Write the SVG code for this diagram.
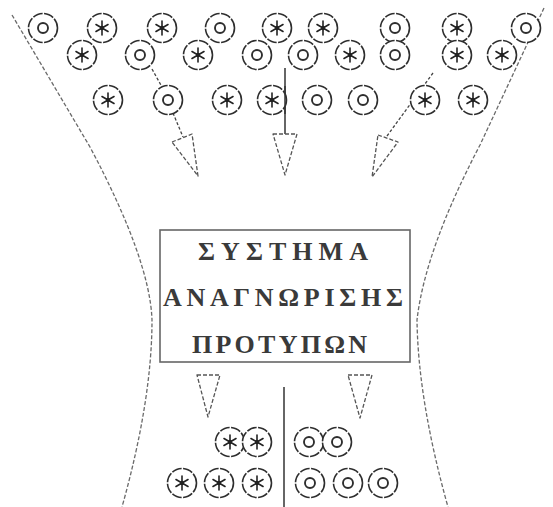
<svg xmlns="http://www.w3.org/2000/svg" xmlns:xlink="http://www.w3.org/1999/xlink" width="553" height="507" viewBox="0 0 553 507">
<style>
.funnel{fill:none;stroke:#6a6a6a;stroke-width:1.3;stroke-dasharray:4 2}
.ring{fill:#fff;stroke:#2e2e2e;stroke-width:1.6;stroke-dasharray:10 1.5}
.inner{fill:none;stroke:#2e2e2e;stroke-width:1.9}
.ast{stroke:#222;stroke-width:1.6;stroke-linecap:round}
.dash{fill:none;stroke:#444;stroke-width:1.3;stroke-dasharray:3 2}
.solid{fill:none;stroke:#333;stroke-width:1.5}
.head{fill:none;stroke:#555;stroke-width:1.3;stroke-dasharray:4 2;stroke-linejoin:round}
.box{fill:#fff;stroke:#666;stroke-width:1.6}
.lbl{font-family:"Liberation Serif","DejaVu Serif",serif;font-size:26px;font-weight:bold;fill:#3a3a3a}
</style>
<defs>
<g id="o">
<circle class="ring" r="14.5"/>
<circle class="inner" r="5"/>
</g>
<g id="s">
<circle class="ring" r="14.5"/>
<line class="ast" x1="0" y1="-7" x2="0" y2="7"/>
<line class="ast" x1="-6" y1="-3.5" x2="6" y2="3.5"/>
<line class="ast" x1="-6" y1="3.5" x2="6" y2="-3.5"/>
<circle r="2.2" fill="#222"/>
</g>
</defs>

<g id="funnel">
<path class="funnel" d="M12,15 L90,147 Q150,260 152,320 Q152,400 122,507"/>
<path class="funnel" d="M544,8 L480,145 Q425,250 417,320 Q418,400 448,507"/>
</g>

<g id="connectors">
<line class="dash" x1="152" y1="69" x2="162" y2="87"/>
<line class="dash" x1="173" y1="113" x2="183" y2="137"/>
<polygon class="head" points="172,142 192,134 198,176"/>
<line class="solid" x1="285" y1="68" x2="285" y2="134"/>
<polygon class="head" points="273,134 297,134 285,175"/>
<line class="dash" x1="433" y1="73" x2="387" y2="136"/>
<polygon class="head" points="378,135 398,142 372,177"/>
<polygon class="head" points="197,375 220,375 208,417"/>
<polygon class="head" points="348,375 372,375 360,418"/>
<line class="solid" x1="284" y1="387" x2="284" y2="507"/>
</g>

<g id="top-row1">
<use id="t1a" xlink:href="#o" x="43" y="28"/>
<use id="t1b" xlink:href="#s" x="102" y="28"/>
<use id="t1c" xlink:href="#s" x="162" y="28"/>
<use id="t1d" xlink:href="#o" x="220" y="28"/>
<use id="t1e" xlink:href="#s" x="277" y="28"/>
<use id="t1f" xlink:href="#s" x="323" y="28"/>
<use id="t1g" xlink:href="#o" x="395" y="28"/>
<use id="t1h" xlink:href="#s" x="457" y="28"/>
<use id="t1i" xlink:href="#o" x="526" y="28"/>
</g>
<g id="top-row2">
<use id="t2a" xlink:href="#s" x="82" y="55"/>
<use id="t2b" xlink:href="#o" x="140" y="55"/>
<use id="t2c" xlink:href="#s" x="198" y="55"/>
<use id="t2d" xlink:href="#o" x="257" y="55"/>
<use id="t2e" xlink:href="#o" x="303" y="55"/>
<use id="t2f" xlink:href="#s" x="350" y="55"/>
<use id="t2g" xlink:href="#o" x="395" y="55"/>
<use id="t2h" xlink:href="#s" x="457" y="55"/>
<use id="t2i" xlink:href="#s" x="502" y="55"/>
</g>
<g id="top-row3">
<use id="t3a" xlink:href="#s" x="108" y="100"/>
<use id="t3b" xlink:href="#o" x="168" y="100"/>
<use id="t3c" xlink:href="#s" x="227" y="100"/>
<use id="t3d" xlink:href="#s" x="272" y="100"/>
<use id="t3e" xlink:href="#o" x="317" y="100"/>
<use id="t3f" xlink:href="#o" x="363" y="100"/>
<use id="t3g" xlink:href="#s" x="425" y="100"/>
<use id="t3h" xlink:href="#s" x="473" y="100"/>
</g>
<line class="solid" x1="285" y1="86" x2="285" y2="114"/>

<g id="system">
<rect class="box" x="160" y="230" width="250" height="132"/>
<text class="lbl" x="198" y="260" textLength="170" lengthAdjust="spacing">ΣΥΣΤΗΜΑ</text>
<text class="lbl" x="163" y="306" textLength="240" lengthAdjust="spacing">ΑΝΑΓΝΩΡΙΣΗΣ</text>
<text class="lbl" x="192" y="353" textLength="175" lengthAdjust="spacing">ΠΡΟΤΥΠΩΝ</text>
</g>

<g id="out-stars">
<use id="b1a" xlink:href="#s" x="230" y="442"/>
<use id="b1b" xlink:href="#s" x="257" y="442"/>
<use id="b2a" xlink:href="#s" x="182" y="483"/>
<use id="b2b" xlink:href="#s" x="219" y="483"/>
<use id="b2c" xlink:href="#s" x="257" y="483"/>
</g>
<g id="out-rings">
<use id="c1a" xlink:href="#o" x="309" y="442"/>
<use id="c1b" xlink:href="#o" x="337" y="442"/>
<use id="c2a" xlink:href="#o" x="310" y="483"/>
<use id="c2b" xlink:href="#o" x="348" y="483"/>
<use id="c2c" xlink:href="#o" x="383" y="483"/>
</g>
</svg>
